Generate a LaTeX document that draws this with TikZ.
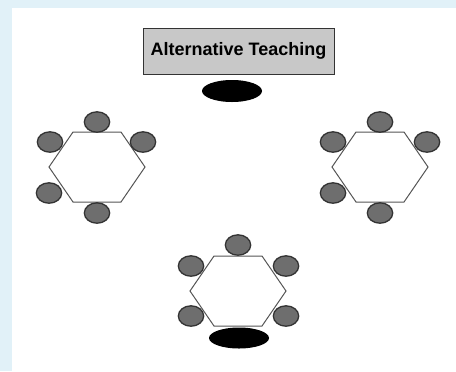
\documentclass[tikz,border=0pt]{standalone}
\usepackage{fontspec}
\setmainfont{Liberation Sans}
\usetikzlibrary{shapes.geometric}
\definecolor{pageblue}{HTML}{E1F1F8}
\definecolor{titlegray}{HTML}{C8C8C8}
\definecolor{seatgray}{HTML}{6E6E6E}
\definecolor{seatline}{HTML}{333333}
\definecolor{tableline}{HTML}{555555}
\tikzset{
  seat/.style={draw=seatline, line width=1.3bp, fill=seatgray},
  tabletop/.style={draw=tableline, line width=1bp, fill=white},
  teacher/.style={fill=black},
  titlebox/.style={draw=black!80, line width=0.8bp, fill=titlegray,
    minimum width=191bp, minimum height=46bp, inner sep=0pt,
    font=\fontsize{18bp}{20bp}\selectfont\bfseries},
  pics/hextable/.style={code={
    \draw[tabletop] (-24,-35) -- (24,-35) -- (48,0) -- (24,35) -- (-24,35) -- (-48,0) -- cycle;
  }}
}
\begin{document}
\begin{tikzpicture}[x=1bp, y=-1bp]
  % page and margin band
  \fill[pageblue] (0,0) rectangle (456,371);
  \fill[white] (12,8) rectangle (456,371);
  \useasboundingbox (0,0) rectangle (456,371);

  % title and teacher at the front
  \node[titlebox] (title) at (238.5,51) {Alternative Teaching};
  \fill[teacher] (232,91) ellipse [x radius=30, y radius=11];

  % left group
  \begin{scope}[shift={(97,167)}]
    \pic {hextable};
    \foreach \p in {(0,-45),(-47,-25),(46,-25),(-48,26),(0,46)}
      \fill[seat] \p ellipse [x radius=12.7, y radius=10.2];
  \end{scope}

  % right group
  \begin{scope}[shift={(380,167)}]
    \pic {hextable};
    \foreach \p in {(0,-45),(-47,-25),(47,-25),(-47,26),(0,46)}
      \fill[seat] \p ellipse [x radius=12.7, y radius=10.2];
  \end{scope}

  % bottom group with its teacher
  \begin{scope}[shift={(238,291)}]
    \pic {hextable};
    \foreach \p in {(0,-46),(-47,-25),(48,-25),(-47,25),(48,25)}
      \fill[seat] \p ellipse [x radius=12.7, y radius=10.2];
    \fill[teacher] (1,47) ellipse [x radius=30, y radius=10.5];
  \end{scope}
\end{tikzpicture}
\end{document}
